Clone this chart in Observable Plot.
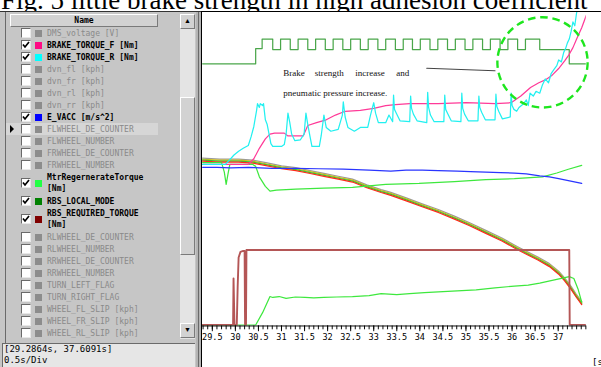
<!DOCTYPE html>
<html><head><meta charset="utf-8">
<script src="https://cdn.jsdelivr.net/npm/d3@7"></script>
<script src="https://cdn.jsdelivr.net/npm/@observablehq/plot@0.6"></script>
<style>
html,body{margin:0;padding:0;}
body{width:601px;height:367px;overflow:hidden;position:relative;background:#fff;}
.abs{position:absolute;box-sizing:border-box;}
#title{position:absolute;left:1px;top:-13px;font:27px/27px "Liberation Serif",serif;white-space:nowrap;color:#000;}
#left{left:0;top:11px;width:196px;height:356px;background:#c6c6c6;border-top:1px solid #333;}
.mono{font-family:"DejaVu Sans Mono",monospace;}
.row{position:absolute;left:6px;width:152px;}
.row .lab{position:absolute;left:41px;top:0;font-size:8px;line-height:11px;white-space:pre;}
.cb{position:absolute;left:15px;width:10px;height:10px;background:#fff;border-top:1px solid #6a6a6a;border-left:1px solid #6a6a6a;border-right:1px solid #e8e8e8;border-bottom:1px solid #e8e8e8;box-sizing:border-box;}
.sq{position:absolute;left:29px;width:7px;height:7px;}
.btn{background:#d2d2d2;border-top:1px solid #fff;border-left:1px solid #fff;border-right:1px solid #7a7a7a;border-bottom:1px solid #7a7a7a;}
#panel{left:201px;top:11px;width:400px;height:356px;background:#fff;border-left:1px solid #000;border-top:1px solid #000;overflow:hidden;}
#panel svg{position:absolute;left:0;top:0;overflow:visible;}
</style></head>
<body>
<div id="title">Fig. 5 little brake strength in high adhesion coefficient</div>
<div id="left" class="abs"></div>
<div class="abs" style="left:5px;top:12px;width:1px;height:331px;background:#6a6a6a"></div>
<div class="abs btn mono" style="left:10px;top:14px;width:148px;height:13px;font-size:8px;line-height:11px;text-align:center;font-weight:bold">Name</div>
<div id="rows"></div>
<div class="abs" style="left:180px;top:14px;width:15px;height:325px;background:#e4e4e4"></div>
<div class="abs btn" style="left:180px;top:14px;width:15px;height:15px;font-size:7px;line-height:13px;text-align:center">&#9650;</div>
<div class="abs btn" style="left:180px;top:97px;width:15px;height:158px"></div>
<div class="abs btn" style="left:180px;top:323px;width:15px;height:15px;font-size:7px;line-height:13px;text-align:center">&#9660;</div>
<div class="abs mono" style="left:2px;top:343px;width:193px;height:24px;background:#e6e6e6;border-top:1px solid #6a6a6a;border-left:1px solid #6a6a6a;font-size:9px;line-height:11px;padding-left:1px;color:#000;white-space:pre" id="status"></div>
<div class="abs" style="left:196px;top:11px;width:5px;height:356px;background:#b4b4b4;border-top:1px solid #333"></div>
<div class="abs" style="left:198px;top:12px;width:1px;height:355px;background:#6a6a6a"></div>
<div id="panel" class="abs"><div class="abs mono" style="left:390px;top:345px;font-size:9px;line-height:10px;color:#000">[s]</div></div>
<script>
// ---- channel list ----
const channelNames = ["DMS_voltage [V]","BRAKE_TORQUE_F [Nm]","BRAKE_TORQUE_R [Nm]","dvn_fl [kph]","dvn_fr [kph]","dvn_rl [kph]","dvn_rr [kph]","E_VACC [m/s^2]","FLWHEEL_DE_COUNTER","FLWHEEL_NUMBER","FRWHEEL_DE_COUNTER","FRWHEEL_NUMBER","MtrRegernerateTorque\n[Nm]","RBS_LOCAL_MODE","RBS_REQUIRED_TORQUE\n[Nm]","RLWHEEL_DE_COUNTER","RLWHEEL_NUMBER","RRWHEEL_DE_COUNTER","RRWHEEL_NUMBER","TURN_LEFT_FLAG","TURN_RIGHT_FLAG","WHEEL_FL_SLIP [kph]","WHEEL_FR_SLIP [kph]","WHEEL_RL_SLIP [kph]"];
const channelOn = [0,1,1,0,0,0,0,1,0,0,0,0,1,1,1,0,0,0,0,0,0,0,0,0];
const channelColors = [null,"#ff0a84","#00ffff",null,null,null,null,"#0000ff",null,null,null,null,"#22ff44","#008000","#800000",null,null,null,null,null,null,null,null,null];
const selectedChannel = 8;
const timeWindow = "[29.2864s, 37.6091s]";
const timeScale = "0.5s/Div";

// ---- chart data: [time s, level] ----
const timeDomain = [29.2864, 37.6091];
const xTickLabels = [29.5,30,30.5,31,31.5,32,32.5,33,33.5,34,34.5,35,35.5,36,36.5,37];
const rbsLocalMode = [[29.29,276],[30.44,292],[30.58,302],[30.81,291],[30.98,302],[31.19,291],[31.36,302],[31.57,291],[31.74,302],[31.95,291],[32.12,302],[32.33,291],[32.50,302],[32.71,291],[32.88,302],[33.09,291],[33.26,302],[33.47,291],[33.64,302],[33.84,291],[34.01,302],[34.22,291],[34.39,302],[34.60,291],[34.77,302],[34.98,291],[35.15,302],[35.36,291],[35.53,302],[35.74,291],[35.91,302],[36.12,291],[36.29,302],[36.60,291],[37.24,276],[37.61,276]];
const brakeTorqueF = [[29.29,170],[30.28,170],[30.40,176],[30.52,187],[30.65,197],[30.75,202],[30.85,203],[31.06,203],[31.14,200],[31.47,200],[31.57,211],[31.76,214],[31.97,217],[32.17,222],[32.38,226],[32.71,227],[33.00,229],[33.26,232],[33.47,233],[33.78,234],[34.40,234],[35.01,235],[35.63,234],[35.98,235],[36.19,242],[36.40,251],[36.58,256],[36.72,259],[36.87,264],[37.01,271],[37.14,279],[37.24,286],[37.32,293],[37.40,302],[37.51,314],[37.61,327]];
const brakeTorqueR = [[29.29,170],[29.78,170],[29.86,174],[29.97,180],[30.07,184],[30.17,187],[30.28,190],[30.34,199],[30.40,210],[30.46,227],[30.48,234],[30.52,230],[30.54,234],[30.59,232],[30.61,234],[30.65,217],[30.69,212],[30.73,202],[30.77,192],[30.81,189],[31.00,189],[31.06,191],[31.10,202],[31.14,224],[31.18,214],[31.22,202],[31.29,195],[31.41,196],[31.49,202],[31.53,224],[31.57,212],[31.62,199],[31.66,189],[31.82,189],[31.86,200],[31.92,222],[31.97,209],[32.07,205],[32.23,207],[32.32,222],[32.34,236],[32.38,220],[32.44,209],[32.58,205],[32.71,209],[32.87,209],[32.93,222],[33.00,235],[33.04,224],[33.10,214],[33.26,214],[33.33,222],
[33.41,215],[33.43,243],[33.45,228],[33.49,224],[33.57,216],
[33.78,215],[33.80,242],[33.82,229],[33.86,223],[33.94,216],
[34.15,214],[34.17,246],[34.19,230],[34.23,222],[34.31,215],
[34.52,215],[34.54,243],[34.56,228],[34.60,224],[34.68,216],
[34.89,215],[34.91,245],[34.93,229],[34.97,223],[35.05,216],
[35.26,216],[35.28,242],[35.30,230],[35.34,225],[35.42,217],
[35.63,217],[35.65,244],[35.67,231],[35.71,226],[35.79,218],
[35.96,220],[35.98,245],[36.00,232],[36.04,228],
[36.10,226],[36.15,230],[36.25,234],[36.31,238],[36.35,232],[36.39,245],[36.46,242],[36.52,247],[36.60,245],[36.66,254],[36.72,260],[36.79,256],[36.85,266],[36.91,270],[36.97,274],[37.01,280],[37.07,278],[37.12,288],[37.16,292],[37.20,298],[37.24,302],[37.28,310],[37.32,320],[37.36,316],[37.40,330],[37.44,334],[37.51,342]];
const eVacc = [[29.29,167],[29.6,167],[29.9,166.5],[30.28,167],[30.8,166],[31.31,166],[31.8,165.5],[32.34,165],[32.9,164],[33.37,163],[33.7,164],[34.05,164],[34.4,163.5],[34.81,163],[35.1,162.5],[35.43,162],[35.75,161.5],[36.05,161],[36.31,160],[36.60,158],[36.81,157],[37.01,155],[37.22,153],[37.51,150]];
const regenUpper = [[29.29,172],[29.70,172],[29.76,162],[29.80,149],[29.84,160],[29.88,170],[30.38,170],[30.44,168],[30.52,157],[30.65,147],[30.75,142],[30.89,143],[31.31,144],[31.92,145],[32.54,146],[33.26,149],[33.98,150],[34.75,152],[35.43,154],[36.05,155],[36.66,157],[36.97,161],[37.22,165],[37.51,169]];
const regenTorque = [[29.29,1],[30.44,1],[30.59,14],[30.75,31],[30.81,30],[30.95,31],[31.10,29],[31.3,30.5],[31.51,30],[31.7,29.5],[31.92,30],[32.2,30.5],[32.54,31],[32.9,32],[33.16,34],[33.5,33],[33.78,34],[34.1,35],[34.40,36],[34.81,37],[35.22,38],[35.63,40],[36.05,42],[36.35,43],[36.60,45],[36.87,48],[37.07,50],[37.24,52],[37.34,50],[37.43,39],[37.51,25]];
const wheelSpeed = [[29.29,175],[29.66,174],[30.07,174],[30.38,173],[30.69,170],[31.00,167],[31.31,165],[31.62,162],[31.92,159],[32.23,156],[32.54,153],[32.85,147],[33.16,142],[33.37,139],[33.72,133],[34.05,127],[34.40,121],[34.75,114],[35.08,107],[35.43,99],[35.78,91],[36.11,82],[36.31,77],[36.56,71],[36.81,64],[37.01,56],[37.14,49],[37.28,40],[37.39,32],[37.51,24]];
const rbsRequired = [[29.29,1],[29.95,1],[29.96,50],[29.98,1],[30.03,1],[30.05,42],[30.07,72],[30.11,78],[30.17,79],[30.20,79],[30.21,1],[30.23,1],[30.24,80],[37.24,80],[37.25,1],[37.61,1]];
const noteWords = ["Brake","strength","increase","and","pneumatic pressure increase."];
const noteT = [31.04,31.72,32.60,33.49,31.04];
const noteV = [266,266,266,266,245.5];
const noteLine = [[34.15,271.3],[35.63,268.7]];
const highlight = [[36.66,277.5]];

// ---- channel list UI ----
const rowsEl = document.getElementById("rows");
let rowTop = 27;
channelNames.forEach((name, i) => {
  const h = name.includes("\n") ? 24 : 12;
  const r = document.createElement("div");
  r.className = "row mono";
  r.style.top = rowTop + "px"; r.style.height = h + "px";
  if (i === selectedChannel) { r.style.background = "#d6d6d6"; }
  const mid = h / 2;
  let html = "";
  if (i === selectedChannel) html += `<div style="position:absolute;left:4px;top:${mid-4}px;width:0;height:0;border-top:4px solid transparent;border-bottom:4px solid transparent;border-left:4px solid #000"></div>`;
  html += `<div class="cb" style="top:${mid-5}px">${channelOn[i] ? '<svg width="8" height="8" style="position:absolute;left:0;top:0"><polyline points="1,3.5 3,6 7,1" fill="none" stroke="#000" stroke-width="1.7"/></svg>' : ''}</div>`;
  html += `<div class="sq" style="top:${mid-3.5}px;background:${channelColors[i] || '#8c8c8c'}"></div>`;
  html += `<div class="lab" style="top:${h === 12 ? 0.5 : 1}px;color:${channelOn[i] ? '#000' : '#8a8a8a'};font-weight:${channelOn[i] ? 'bold' : 'normal'}"></div>`;
  r.innerHTML = html;
  r.querySelector(".lab").textContent = name;
  rowsEl.appendChild(r);
  rowTop += h;
});
document.getElementById("status").textContent = timeWindow + "\n" + timeScale;

// ---- chart ----
const pts = a => a.map(([t, v]) => ({t, v}));
const line = (a, stroke, extra = {}) => Plot.line(pts(a), {x: "t", y: "v", stroke, strokeWidth: 1.3, clip: true, ...extra});
const minorTicks = d3.range(293, 377).map(d => d / 10);
const notes = noteWords.map((w, i) => ({w, t: noteT[i], v: noteV[i]}));
const chart = Plot.plot({
  width: 420, height: 355,
  marginLeft: 0, marginRight: 16, marginTop: 0, marginBottom: 25,
  x: {domain: timeDomain, label: null},
  y: {domain: [0, 330], axis: null},
  style: {fontFamily: "'DejaVu Sans Mono', monospace", fontSize: "9px", background: "transparent", color: "#000"},
  marks: [
    line(wheelSpeed, "#9a9a9a", {dy: -1.6}),
    line(wheelSpeed, "#d2c01a", {dy: -0.5}),
    line(wheelSpeed, "#35c035", {dy: 0.5}),
    line(wheelSpeed, "#ff2a1a", {dy: 1.5}),
    line(regenUpper, "#3ee83e"),
    line(regenTorque, "#3ee83e"),
    line(eVacc, "#2a35ff"),
    line(rbsLocalMode, "#4aa64a", {curve: "step-after"}),
    line(brakeTorqueF, "#ff3a98"),
    line(brakeTorqueR, "#22f0f0"),
    line(rbsRequired, "#b45656", {strokeWidth: 2}),
    Plot.dot(pts(highlight), {x: "t", y: "v", r: 47.5, fill: "none", stroke: "#1ee61e", strokeWidth: 2.5, strokeDasharray: "8 5"}),
    Plot.line(pts(noteLine), {x: "t", y: "v", stroke: "#444", strokeWidth: 1.2}),
    Plot.text(notes, {x: "t", y: "v", text: "w", textAnchor: "start", fill: "#111", fontSize: 9.5, fontFamily: "'Liberation Serif', serif"}),
    Plot.ruleY([0], {stroke: "#000"}),
    Plot.axisX({ticks: minorTicks, tickSize: 4, tickFormat: () => "", label: null}),
    Plot.axisX({ticks: xTickLabels, tickSize: 6, tickPadding: 2, tickFormat: d => String(d), label: null})
  ]
});
document.getElementById("panel").appendChild(chart);
</script>
</body></html>
